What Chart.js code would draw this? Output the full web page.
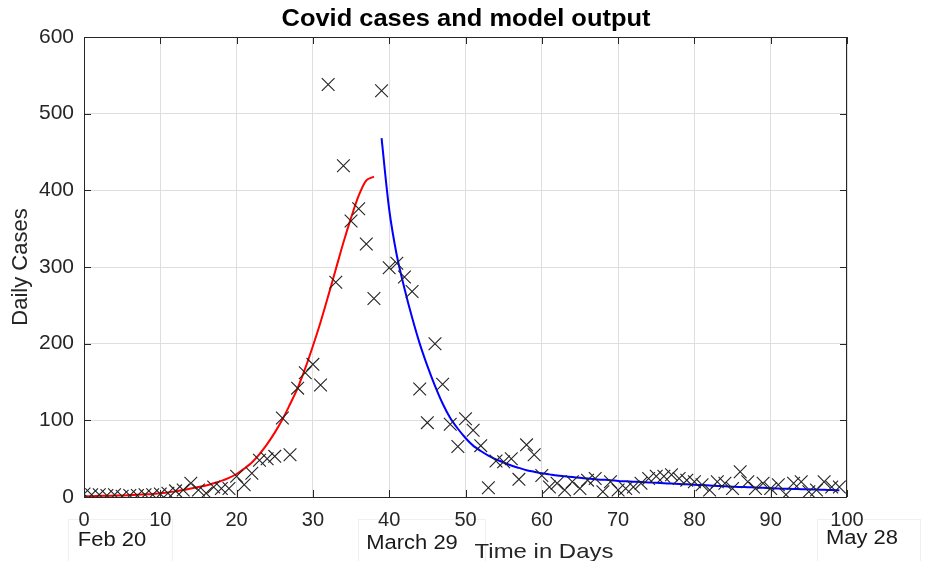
<!DOCTYPE html>
<html>
<head>
<meta charset="utf-8">
<title>Covid cases and model output</title>
<script src="https://cdn.jsdelivr.net/npm/chart.js@4"></script>
<style>
  html, body { margin: 0; padding: 0; background: #fff; }
  #wrap { width: 933px; height: 561px; }
</style>
</head>
<body>
<div id="wrap"><canvas id="covidChart" width="933" height="561"></canvas></div>
<script>
// observed daily cases, one value per day starting at day 0
const caseCounts = [
    4, 3, 3, 2, 3, 1, 2, 2, 3, 3, 4, 5, 8, 9, 18, 9, 5, 13, 11, 11,
    27, 16, 31, 48, 50, 53, 103, 55, 142, 162, 173, 146, 538, 280, 432, 360, 376, 330, 259, 530,
    299, 305, 287, 268, 141, 97, 200, 147, 95, 66, 102, 87, 67, 12, 47, 46, 50, 23, 68, 55,
    28, 13, 18, 9, 20, 11, 22, 24, 7, 20, 9, 11, 13, 18, 24, 27, 27, 29, 24, 22,
    20, 16, 9, 20, 18, 11, 33, 20, 11, 18, 11, 16, 3, 18, 20, 7, 9, 20, 13, 13
];

// model before the peak (red), starts at day 0
const riseStart = 0;
const riseModel = [
    1, 1, 1.5, 1.5, 2, 2, 2.5, 3, 3.5, 4, 5, 6, 7.5, 9, 11, 13, 15, 18, 21, 25,
    30, 37, 45, 56, 69, 84, 101, 121, 142, 168, 197, 228, 262, 297, 332, 364, 393, 413, 418
];

// model after the peak (blue), starts at day 39
const fallStart = 39;
const fallModel = [
    468, 375, 315, 272, 234, 200, 171, 145, 122, 103, 89, 77, 67, 60, 54, 49, 45, 41, 38, 35,
    33, 31, 29.5, 28, 27, 26, 25, 24, 23, 22.5, 22, 21, 20.5, 20, 19.5, 19, 18.5, 18, 17.5, 17,
    16.5, 16, 15.5, 15, 14.5, 14, 13.5, 13, 12.8, 12.4, 12, 11.5, 11, 10.8, 10.5, 10.2, 10, 9.7, 9.4, 9,
    8.8
];

const xTicks = [0, 10, 20, 30, 40, 50, 60, 70, 80, 90, 100];
const yTicks = [0, 100, 200, 300, 400, 500, 600];

// date notes under the x axis: [text, box left, box right, text center x, text center y]
const dateNotes = [
    ['Feb 20', 68, 172, 112, 540],
    ['March 29', 358, 485, 412, 543],
    ['May 28', 817, 920, 862, 538]
];

const axisColor = '#262626';
const gridColor = '#dedede';
const fontFamily = '"Liberation Sans", Arial, sans-serif';

function toPoints(start, values) {
    return values.map(function (v, i) { return { x: start + i, y: v }; });
}

// title, box round the axes, inward ticks and the notes below
const frameAndNotes = {
    id: 'frameAndNotes',
    beforeDraw(chart) {
        // faint note boxes, behind the tick labels
        const ctx = chart.ctx;
        ctx.save();
        ctx.strokeStyle = '#f0f0f0';
        ctx.lineWidth = 1;
        dateNotes.forEach(function (n) {
            ctx.strokeRect(n[1] + 0.5, 519.5, n[2] - n[1], 60);
        });
        ctx.restore();
    },
    afterDatasetsDraw(chart) {
        const ctx = chart.ctx;
        const a = chart.chartArea;
        const xs = chart.scales.x, ys = chart.scales.y;
        ctx.save();
        ctx.strokeStyle = axisColor;
        ctx.lineWidth = 1;
        ctx.strokeRect(Math.round(a.left) + 0.5, Math.round(a.top) + 0.5,
            Math.round(a.right - a.left) - 1, Math.round(a.bottom - a.top));
        ctx.beginPath();
        xTicks.forEach(function (t) {
            const px = Math.round(xs.getPixelForValue(t)) + 0.5;
            ctx.moveTo(px, a.bottom); ctx.lineTo(px, a.bottom - 7);
            ctx.moveTo(px, a.top); ctx.lineTo(px, a.top + 7);
        });
        yTicks.forEach(function (t) {
            const py = Math.round(ys.getPixelForValue(t)) + 0.5;
            ctx.moveTo(a.left, py); ctx.lineTo(a.left + 7, py);
            ctx.moveTo(a.right, py); ctx.lineTo(a.right - 7, py);
        });
        ctx.stroke();
        ctx.restore();
    },
    afterDraw(chart) {
        const ctx = chart.ctx;
        ctx.save();
        // title
        ctx.fillStyle = '#000';
        ctx.textAlign = 'center';
        ctx.textBaseline = 'middle';
        ctx.font = 'bold 24px ' + fontFamily;
        ctx.save();
        ctx.translate(466, 19);
        ctx.scale(1.06, 1);
        ctx.fillText('Covid cases and model output', 0, 0);
        ctx.restore();
        // date notes
        ctx.fillStyle = '#1a1a1a';
        ctx.font = '20px ' + fontFamily;
        dateNotes.forEach(function (n) {
            ctx.save();
            ctx.translate(n[3], n[4]);
            ctx.scale(1.1, 1);
            ctx.fillText(n[0], 0, 0);
            ctx.restore();
        });
        // x axis title
        ctx.fillStyle = axisColor;
        ctx.textBaseline = 'alphabetic';
        ctx.font = '21px ' + fontFamily;
        ctx.translate(544, 558);
        ctx.scale(1.14, 1);
        ctx.fillText('Time in Days', 0, 0);
        ctx.restore();
    }
};

document.addEventListener('DOMContentLoaded', function () {
    const ctx = document.getElementById('covidChart').getContext('2d');
    new Chart(ctx, {
        type: 'scatter',
        data: {
            datasets: [
                {
                    label: 'Model (rise)',
                    data: toPoints(riseStart, riseModel),
                    showLine: true,
                    borderColor: '#ff0000',
                    borderWidth: 2,
                    pointRadius: 0,
                    tension: 0.3,
                    order: 2
                },
                {
                    label: 'Model (decline)',
                    data: toPoints(fallStart, fallModel),
                    showLine: true,
                    borderColor: '#0000ff',
                    borderWidth: 2,
                    pointRadius: 0,
                    tension: 0.3,
                    order: 2
                },
                {
                    label: 'Daily cases',
                    data: toPoints(0, caseCounts),
                    showLine: false,
                    pointStyle: 'crossRot',
                    pointRadius: 9,
                    pointBorderWidth: 1.1,
                    borderColor: '#222',
                    backgroundColor: '#222',
                    order: 1
                }
            ]
        },
        options: {
            responsive: false,
            animation: false,
            layout: { padding: { left: 0, right: 86, top: 37, bottom: 0 } },
            plugins: {
                legend: { display: false },
                tooltip: { enabled: false },
                title: { display: false }
            },
            scales: {
                x: {
                    type: 'linear',
                    min: 0,
                    max: 100,
                    afterFit: function (scale) { scale.height = 64; },
                    afterBuildTicks: function (scale) {
                        scale.ticks = xTicks.map(function (v) { return { value: v }; });
                    },
                    grid: { color: gridColor, drawTicks: false },
                    border: { display: false },
                    ticks: {
                        color: axisColor,
                        padding: 11,
                        maxRotation: 0,
                        autoSkip: false,
                        font: { family: fontFamily, size: 20 }
                    },
                    title: { display: false }
                },
                y: {
                    type: 'linear',
                    min: 0,
                    max: 600,
                    afterFit: function (scale) { scale.width = 84; },
                    afterBuildTicks: function (scale) {
                        scale.ticks = yTicks.map(function (v) { return { value: v }; });
                    },
                    grid: { color: gridColor, drawTicks: false },
                    border: { display: false },
                    ticks: {
                        color: axisColor,
                        padding: 10,
                        font: { family: fontFamily, size: 21 }
                    },
                    title: {
                        display: true,
                        text: 'Daily Cases',
                        color: axisColor,
                        padding: { top: 8, bottom: 0 },
                        font: { family: fontFamily, size: 22, lineHeight: 1.2 }
                    }
                }
            }
        },
        plugins: [frameAndNotes]
    });
});
</script>
</body>
</html>
